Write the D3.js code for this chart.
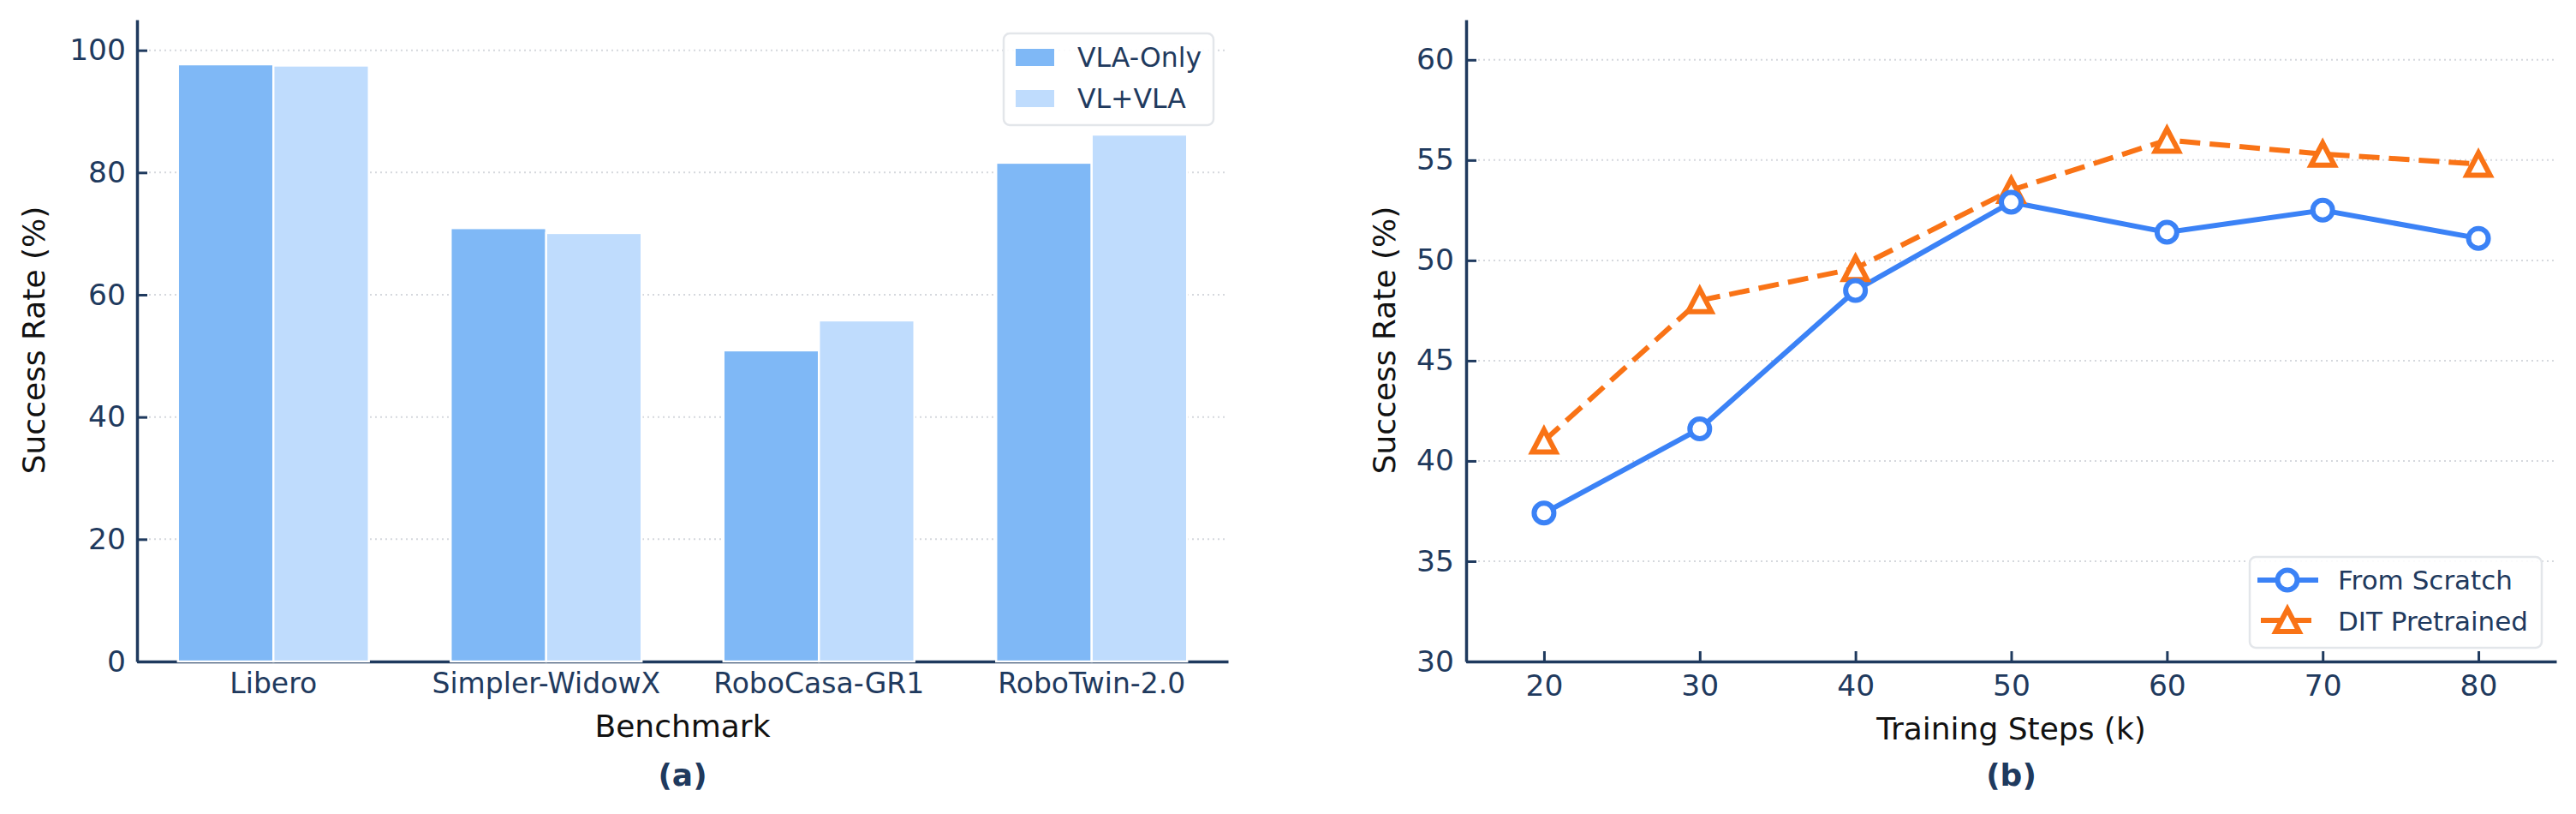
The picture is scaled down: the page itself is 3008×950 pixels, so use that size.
<!DOCTYPE html>
<html lang="en">
<head>
<meta charset="utf-8">
<title>VLA success rates</title>
<script src="https://d3js.org/d3.v7.min.js"></script>
<style>
    body { margin: 0; background: #fff; }
    svg { display: block; font-family: "DejaVu Sans", sans-serif; }
</style>
</head>
<body>
<div id="chart"></div>
<script>
var WIDTH = 3008;
var HEIGHT = 950;

// panel (a) data
var benchmarks = ["Libero", "Simpler-WidowX", "RoboCasa-GR1", "RoboTwin-2.0"];
var barSeries = ["VLA-Only", "VL+VLA"];
var vlaOnly = [97.7, 70.9, 50.9, 81.6];
var vlVla = [97.5, 70.1, 55.8, 86.2];
var barTicks = [0, 20, 40, 60, 80, 100];

// panel (b) data
var steps = [20, 30, 40, 50, 60, 70, 80];
var lineSeries = ["From Scratch", "DIT Pretrained"];
var fromScratch = [37.4, 41.6, 48.5, 52.9, 51.4, 52.5, 51.1];
var ditPretrained = [41.0, 48.0, 49.6, 53.5, 56.0, 55.3, 54.8];
var lineYTicks = [30, 35, 40, 45, 50, 55, 60];
var lineXTicks = [20, 30, 40, 50, 60, 70, 80];

var NAVY = "#1f3a5e";
var GRID = "#d5d8dd";
var BAR_COLORS = ["#7fb8f6", "#bfdcfd"];
var BLUE = "#3b82f6";
var ORANGE = "#f97316";

const svg = d3.select("#chart")
    .append("svg")
    .attr("width", WIDTH)
    .attr("height", HEIGHT)
    .attr("viewBox", "0 0 " + WIDTH + " " + HEIGHT);

var TOP = 23, BOTTOM = 772;

function styleAxis(g, fontSize) {
    g.select(".domain").attr("stroke", NAVY).attr("stroke-width", 3.5);
    g.selectAll(".tick line").attr("stroke", NAVY).attr("stroke-width", 3);
    g.selectAll(".tick text")
        .attr("fill", NAVY)
        .attr("font-size", fontSize)
        .attr("font-family", "DejaVu Sans");
}

function grid(values, yScale, x0, x1) {
    svg.append("g").selectAll("line")
        .data(values)
        .join("line")
        .attr("x1", x0 + 14).attr("x2", x1)
        .attr("y1", d => yScale(d)).attr("y2", d => yScale(d))
        .attr("stroke", GRID)
        .attr("stroke-width", 2)
        .attr("stroke-dasharray", "2,4");
}

/* ---------- panel (a): grouped bars ---------- */
var xA = d3.scaleBand().domain(benchmarks).range([160, 1434]).paddingInner(0).paddingOuter(0);
var yA = d3.scaleLinear().domain([0, 105]).range([BOTTOM, TOP]);
var inner = d3.scaleBand().domain(barSeries).range([0, 0.7 * xA.bandwidth()]);

grid(barTicks.filter(d => d > 0), yA, 160, 1434);

var axA_x = svg.append("g")
    .attr("transform", "translate(0," + BOTTOM + ")")
    .call(d3.axisBottom(xA).tickSize(0).tickSizeOuter(0).tickPadding(13.5));
styleAxis(axA_x, 33);

var axA_y = svg.append("g")
    .attr("transform", "translate(160,0)")
    .call(d3.axisLeft(yA).tickValues(barTicks).tickSize(-12).tickSizeOuter(0).tickPadding(13));
styleAxis(axA_y, 34.5);

var barData = [vlaOnly, vlVla];
barSeries.forEach(function (s, si) {
    svg.append("g").selectAll("rect")
        .data(benchmarks)
        .join("rect")
        .attr("x", (d, i) => xA(d) + xA.bandwidth() / 2 - 0.35 * xA.bandwidth() + inner(s))
        .attr("y", (d, i) => yA(barData[si][i]))
        .attr("width", inner.bandwidth())
        .attr("height", (d, i) => yA(0) - yA(barData[si][i]))
        .attr("fill", BAR_COLORS[si])
        .attr("stroke", "#fff")
        .attr("stroke-width", 2.4);
});

svg.append("text")
    .attr("transform", "translate(52,397) rotate(-90)")
    .attr("text-anchor", "middle")
    .attr("font-size", 36)
    .attr("fill", "#111")
    .text("Success Rate (%)");

svg.append("text")
    .attr("x", 797).attr("y", 860)
    .attr("text-anchor", "middle")
    .attr("font-size", 36)
    .attr("fill", "#111")
    .text("Benchmark");

svg.append("text")
    .attr("x", 797).attr("y", 917)
    .attr("text-anchor", "middle")
    .attr("font-size", 36)
    .attr("font-weight", "bold")
    .attr("fill", NAVY)
    .text("(a)");

// legend (a)
var legA = svg.append("g").attr("transform", "translate(1172,39)");
legA.append("rect")
    .attr("width", 245).attr("height", 107).attr("rx", 7)
    .attr("fill", "#fff").attr("fill-opacity", 0.9)
    .attr("stroke", "#e3e6ea").attr("stroke-width", 2.5);
barSeries.forEach(function (s, i) {
    legA.append("rect")
        .attr("x", 14).attr("y", 18 + i * 48)
        .attr("width", 45).attr("height", 20)
        .attr("fill", BAR_COLORS[i]);
    legA.append("text")
        .attr("x", 86).attr("y", 39 + i * 48)
        .attr("font-size", 31.5)
        .attr("fill", NAVY)
        .text(s);
});

/* ---------- panel (b): lines ---------- */
var xB = d3.scaleLinear().domain([15, 85]).range([1712, 2985]);
var yB = d3.scaleLinear().domain([30, 62]).range([BOTTOM, TOP]);

grid(lineYTicks.filter(d => d > 30), yB, 1712, 2985);

var axB_x = svg.append("g")
    .attr("transform", "translate(0," + BOTTOM + ")")
    .call(d3.axisBottom(xB).tickValues(lineXTicks).tickSize(-12).tickSizeOuter(0).tickPadding(15.5));
styleAxis(axB_x, 34.5);

var axB_y = svg.append("g")
    .attr("transform", "translate(1712,0)")
    .call(d3.axisLeft(yB).tickValues(lineYTicks).tickSize(-12).tickSizeOuter(0).tickPadding(14));
styleAxis(axB_y, 34.5);

var line = d3.line()
    .x((d, i) => xB(steps[i]))
    .y(d => yB(d));

function trianglePath(s) {
    return "M0," + (-s) + "L" + (s * 1.05) + "," + s + "L" + (-s * 1.05) + "," + s + "Z";
}

// DIT Pretrained (dashed orange, triangles)
svg.append("path")
    .datum(ditPretrained)
    .attr("d", line)
    .attr("fill", "none")
    .attr("stroke", ORANGE)
    .attr("stroke-width", 6)
    .attr("stroke-dasharray", "24,11");

// From Scratch (solid blue, circles)
svg.append("path")
    .datum(fromScratch)
    .attr("d", line)
    .attr("fill", "none")
    .attr("stroke", BLUE)
    .attr("stroke-width", 6)
    .attr("stroke-linejoin", "round");

svg.append("g").selectAll("path")
    .data(ditPretrained)
    .join("path")
    .attr("transform", (d, i) => "translate(" + xB(steps[i]) + "," + yB(d) + ")")
    .attr("d", trianglePath(13))
    .attr("fill", "#fff")
    .attr("stroke", ORANGE)
    .attr("stroke-width", 6)
    .attr("stroke-linejoin", "miter");

svg.append("g").selectAll("circle")
    .data(fromScratch)
    .join("circle")
    .attr("cx", (d, i) => xB(steps[i]))
    .attr("cy", d => yB(d))
    .attr("r", 11.5)
    .attr("fill", "#fff")
    .attr("stroke", BLUE)
    .attr("stroke-width", 6);

svg.append("text")
    .attr("transform", "translate(1629,397) rotate(-90)")
    .attr("text-anchor", "middle")
    .attr("font-size", 36)
    .attr("fill", "#111")
    .text("Success Rate (%)");

svg.append("text")
    .attr("x", 2348.5).attr("y", 863)
    .attr("text-anchor", "middle")
    .attr("font-size", 36)
    .attr("fill", "#111")
    .text("Training Steps (k)");

svg.append("text")
    .attr("x", 2348.5).attr("y", 917)
    .attr("text-anchor", "middle")
    .attr("font-size", 36)
    .attr("font-weight", "bold")
    .attr("fill", NAVY)
    .text("(b)");

// legend (b)
var legB = svg.append("g").attr("transform", "translate(2627,650)");
legB.append("rect")
    .attr("width", 341).attr("height", 106).attr("rx", 7)
    .attr("fill", "#fff").attr("fill-opacity", 0.9)
    .attr("stroke", "#e3e6ea").attr("stroke-width", 2.5);

legB.append("line")
    .attr("x1", 9).attr("x2", 80).attr("y1", 27).attr("y2", 27)
    .attr("stroke", BLUE).attr("stroke-width", 6);
legB.append("circle")
    .attr("cx", 44).attr("cy", 27).attr("r", 11.5)
    .attr("fill", "#fff").attr("stroke", BLUE).attr("stroke-width", 6);

legB.append("line")
    .attr("x1", 13).attr("x2", 75).attr("y1", 74).attr("y2", 74)
    .attr("stroke", ORANGE).attr("stroke-width", 6)
    .attr("stroke-dasharray", "24,11");
legB.append("path")
    .attr("transform", "translate(44,74)")
    .attr("d", trianglePath(13))
    .attr("fill", "#fff").attr("stroke", ORANGE).attr("stroke-width", 6)
    .attr("stroke-linejoin", "miter");

lineSeries.forEach(function (s, i) {
    legB.append("text")
        .attr("x", 103).attr("y", 38 + i * 48)
        .attr("font-size", 31)
        .attr("fill", NAVY)
        .text(s);
});
</script>
</body>
</html>
